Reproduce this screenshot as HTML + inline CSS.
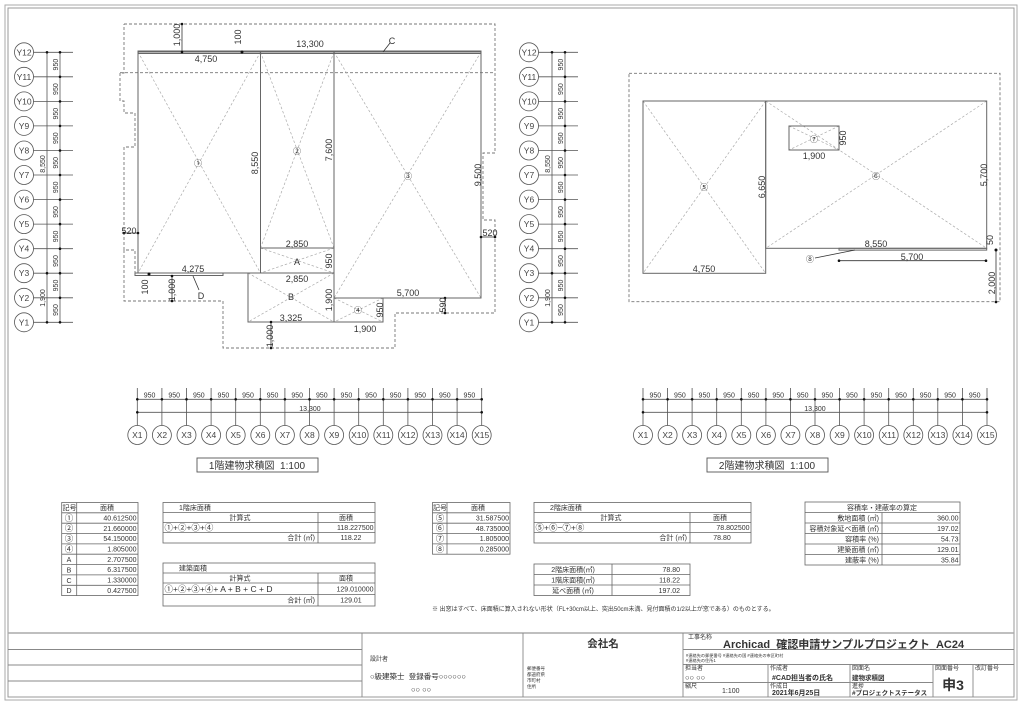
<!DOCTYPE html>
<html><head><meta charset="utf-8"><style>
html,body{margin:0;padding:0;background:#fff;width:1024px;height:707px;overflow:hidden}
svg{position:absolute;left:0;top:0}
text{font-family:"Liberation Sans","Noto Sans CJK JP",sans-serif;fill:#333}
.d{font-size:9px;fill:#444}
.s{font-size:6.5px;fill:#333}
.g{font-size:8.5px;fill:#444}
</style></head><body>
<svg width="1024" height="707" viewBox="0 0 1024 707">
<rect x="5" y="5" width="1012" height="695" fill="none" stroke="#aaa" stroke-width="1"/>
<rect x="8" y="8" width="1006" height="689" fill="none" stroke="#999" stroke-width="1"/>

<g stroke="#555" stroke-width="0.8" fill="none">
<line x1="47" y1="52.3" x2="47" y2="322.3"/><line x1="60" y1="52.3" x2="60" y2="322.3"/>
<line x1="33.5" y1="322.3" x2="73" y2="322.3"/><line x1="33.5" y1="297.8" x2="73" y2="297.8"/><line x1="33.5" y1="273.2" x2="73" y2="273.2"/><line x1="33.5" y1="248.7" x2="73" y2="248.7"/><line x1="33.5" y1="224.1" x2="73" y2="224.1"/><line x1="33.5" y1="199.6" x2="73" y2="199.6"/><line x1="33.5" y1="175" x2="73" y2="175"/><line x1="33.5" y1="150.5" x2="73" y2="150.5"/><line x1="33.5" y1="125.9" x2="73" y2="125.9"/><line x1="33.5" y1="101.4" x2="73" y2="101.4"/><line x1="33.5" y1="76.8" x2="73" y2="76.8"/><line x1="33.5" y1="52.3" x2="73" y2="52.3"/>
<circle cx="24" cy="322.3" r="9.5"/><circle cx="24" cy="297.8" r="9.5"/><circle cx="24" cy="273.2" r="9.5"/><circle cx="24" cy="248.7" r="9.5"/><circle cx="24" cy="224.1" r="9.5"/><circle cx="24" cy="199.6" r="9.5"/><circle cx="24" cy="175" r="9.5"/><circle cx="24" cy="150.5" r="9.5"/><circle cx="24" cy="125.9" r="9.5"/><circle cx="24" cy="101.4" r="9.5"/><circle cx="24" cy="76.8" r="9.5"/><circle cx="24" cy="52.3" r="9.5"/>
</g>
<g fill="#111">
<circle cx="47" cy="322.3" r="1.3"/><circle cx="47" cy="273.2" r="1.3"/><circle cx="47" cy="52.3" r="1.3"/>
<circle cx="60" cy="322.3" r="1.3"/><circle cx="60" cy="297.8" r="1.3"/><circle cx="60" cy="273.2" r="1.3"/><circle cx="60" cy="248.7" r="1.3"/><circle cx="60" cy="224.1" r="1.3"/><circle cx="60" cy="199.6" r="1.3"/><circle cx="60" cy="175" r="1.3"/><circle cx="60" cy="150.5" r="1.3"/><circle cx="60" cy="125.9" r="1.3"/><circle cx="60" cy="101.4" r="1.3"/><circle cx="60" cy="76.8" r="1.3"/><circle cx="60" cy="52.3" r="1.3"/>
</g>
<g text-anchor="middle">
<text x="24" y="325.3" class="g">Y1</text><text x="24" y="300.8" class="g">Y2</text><text x="24" y="276.2" class="g">Y3</text><text x="24" y="251.7" class="g">Y4</text><text x="24" y="227.1" class="g">Y5</text><text x="24" y="202.6" class="g">Y6</text><text x="24" y="178" class="g">Y7</text><text x="24" y="153.5" class="g">Y8</text><text x="24" y="128.9" class="g">Y9</text><text x="24" y="104.4" class="g">Y10</text><text x="24" y="79.8" class="g">Y11</text><text x="24" y="55.3" class="g">Y12</text>
</g>
<g font-size="7" fill="#444" text-anchor="middle">
<text transform="translate(58,310) rotate(-90)">950</text><text transform="translate(58,285.5) rotate(-90)">950</text><text transform="translate(58,261) rotate(-90)">950</text><text transform="translate(58,236.4) rotate(-90)">950</text><text transform="translate(58,211.9) rotate(-90)">950</text><text transform="translate(58,187.3) rotate(-90)">950</text><text transform="translate(58,162.8) rotate(-90)">950</text><text transform="translate(58,138.2) rotate(-90)">950</text><text transform="translate(58,113.7) rotate(-90)">950</text><text transform="translate(58,89.1) rotate(-90)">950</text><text transform="translate(58,64.6) rotate(-90)">950</text>
<text transform="translate(45,164) rotate(-90)">8,550</text><text transform="translate(45,298) rotate(-90)">1,900</text>
</g>

<g stroke="#555" stroke-width="0.8" fill="none">
<line x1="552" y1="52.3" x2="552" y2="322.3"/><line x1="565" y1="52.3" x2="565" y2="322.3"/>
<line x1="538.5" y1="322.3" x2="578" y2="322.3"/><line x1="538.5" y1="297.8" x2="578" y2="297.8"/><line x1="538.5" y1="273.2" x2="578" y2="273.2"/><line x1="538.5" y1="248.7" x2="578" y2="248.7"/><line x1="538.5" y1="224.1" x2="578" y2="224.1"/><line x1="538.5" y1="199.6" x2="578" y2="199.6"/><line x1="538.5" y1="175" x2="578" y2="175"/><line x1="538.5" y1="150.5" x2="578" y2="150.5"/><line x1="538.5" y1="125.9" x2="578" y2="125.9"/><line x1="538.5" y1="101.4" x2="578" y2="101.4"/><line x1="538.5" y1="76.8" x2="578" y2="76.8"/><line x1="538.5" y1="52.3" x2="578" y2="52.3"/>
<circle cx="529" cy="322.3" r="9.5"/><circle cx="529" cy="297.8" r="9.5"/><circle cx="529" cy="273.2" r="9.5"/><circle cx="529" cy="248.7" r="9.5"/><circle cx="529" cy="224.1" r="9.5"/><circle cx="529" cy="199.6" r="9.5"/><circle cx="529" cy="175" r="9.5"/><circle cx="529" cy="150.5" r="9.5"/><circle cx="529" cy="125.9" r="9.5"/><circle cx="529" cy="101.4" r="9.5"/><circle cx="529" cy="76.8" r="9.5"/><circle cx="529" cy="52.3" r="9.5"/>
</g>
<g fill="#111">
<circle cx="552" cy="322.3" r="1.3"/><circle cx="552" cy="273.2" r="1.3"/><circle cx="552" cy="52.3" r="1.3"/>
<circle cx="565" cy="322.3" r="1.3"/><circle cx="565" cy="297.8" r="1.3"/><circle cx="565" cy="273.2" r="1.3"/><circle cx="565" cy="248.7" r="1.3"/><circle cx="565" cy="224.1" r="1.3"/><circle cx="565" cy="199.6" r="1.3"/><circle cx="565" cy="175" r="1.3"/><circle cx="565" cy="150.5" r="1.3"/><circle cx="565" cy="125.9" r="1.3"/><circle cx="565" cy="101.4" r="1.3"/><circle cx="565" cy="76.8" r="1.3"/><circle cx="565" cy="52.3" r="1.3"/>
</g>
<g text-anchor="middle">
<text x="529" y="325.3" class="g">Y1</text><text x="529" y="300.8" class="g">Y2</text><text x="529" y="276.2" class="g">Y3</text><text x="529" y="251.7" class="g">Y4</text><text x="529" y="227.1" class="g">Y5</text><text x="529" y="202.6" class="g">Y6</text><text x="529" y="178" class="g">Y7</text><text x="529" y="153.5" class="g">Y8</text><text x="529" y="128.9" class="g">Y9</text><text x="529" y="104.4" class="g">Y10</text><text x="529" y="79.8" class="g">Y11</text><text x="529" y="55.3" class="g">Y12</text>
</g>
<g font-size="7" fill="#444" text-anchor="middle">
<text transform="translate(563,310) rotate(-90)">950</text><text transform="translate(563,285.5) rotate(-90)">950</text><text transform="translate(563,261) rotate(-90)">950</text><text transform="translate(563,236.4) rotate(-90)">950</text><text transform="translate(563,211.9) rotate(-90)">950</text><text transform="translate(563,187.3) rotate(-90)">950</text><text transform="translate(563,162.8) rotate(-90)">950</text><text transform="translate(563,138.2) rotate(-90)">950</text><text transform="translate(563,113.7) rotate(-90)">950</text><text transform="translate(563,89.1) rotate(-90)">950</text><text transform="translate(563,64.6) rotate(-90)">950</text>
<text transform="translate(550,164) rotate(-90)">8,550</text><text transform="translate(550,298) rotate(-90)">1,900</text>
</g>

<g fill="none" stroke="#777" stroke-width="0.9" stroke-dasharray="3,2">
<path d="M124,24 H495 V153 H483 V220 H495 V313 H395 V348 H223 V301 H124 V250 H135 V273 M124,250 V147 H135 V113 H124 V101 H120 V73 H124 V24"/>
<line x1="120" y1="72.7" x2="495" y2="72.7"/>
</g>
<g fill="none" stroke="#aaa" stroke-width="0.7" stroke-dasharray="2.5,2">
<path d="M138,52 L260.5,273 M260.5,52 L138,273"/>
<path d="M260.5,52 L334,248 M334,52 L260.5,248"/>
<path d="M260.5,248 L334,273 M334,248 L260.5,273"/>
<path d="M334,52 L481,298 M481,52 L334,298"/>
<path d="M248,273 L334,322 M334,273 L248,322"/>
<path d="M334,298 L383,322 M383,298 L334,322"/>
</g>
<g fill="none" stroke="#666" stroke-width="1">
<rect x="138" y="51" width="343" height="2.5"/>
<rect x="138" y="52" width="122.5" height="221"/>
<rect x="260.5" y="52" width="73.5" height="196"/>
<rect x="260.5" y="248" width="73.5" height="25"/>
<rect x="334" y="52" width="147" height="246"/>
<rect x="248" y="273" width="86" height="49"/>
<rect x="334" y="298" width="49" height="24"/>
<rect x="135" y="273" width="88" height="2.5"/>
</g>
<g stroke="#333" stroke-width="0.8" fill="none">
<line x1="182" y1="24" x2="182" y2="52"/><line x1="172" y1="276" x2="172" y2="301"/><line x1="271" y1="322" x2="271" y2="348"/><line x1="445" y1="298" x2="445" y2="313"/>
<line x1="124" y1="233" x2="138" y2="233"/><line x1="481" y1="237" x2="495" y2="237"/>
<line x1="383" y1="52" x2="390" y2="43"/><line x1="193" y1="276" x2="199" y2="290"/>
</g>
<g fill="#111">
<circle cx="182" cy="24" r="1.3"/><circle cx="182" cy="52" r="1.3"/><circle cx="242" cy="52" r="1.5"/><circle cx="149" cy="274" r="1.5"/><circle cx="172" cy="276" r="1.3"/><circle cx="172" cy="301" r="1.3"/><circle cx="271" cy="322" r="1.3"/><circle cx="271" cy="348" r="1.3"/><circle cx="445" cy="298" r="1.3"/><circle cx="445" cy="313" r="1.3"/><circle cx="124" cy="233" r="1.3"/><circle cx="138" cy="233" r="1.3"/><circle cx="481" cy="237" r="1.3"/><circle cx="495" cy="237" r="1.3"/>
</g>
<g class="d" text-anchor="middle">
<text x="310" y="47">13,300</text><text x="206" y="62">4,750</text>
<text x="297" y="247">2,850</text><text x="297" y="282">2,850</text>
<text x="408" y="296">5,700</text><text x="193" y="272">4,275</text>
<text x="291" y="321">3,325</text><text x="365" y="332">1,900</text>
<text x="129" y="234">520</text><text x="490" y="236">520</text>
<text x="392" y="44">C</text><text x="201" y="299">D</text><text x="297" y="265">A</text><text x="291" y="300">B</text>
<text transform="translate(180,35) rotate(-90)">1,000</text>
<text transform="translate(241,37) rotate(-90)">100</text>
<text transform="translate(258,163) rotate(-90)">8,550</text>
<text transform="translate(332,150) rotate(-90)">7,600</text>
<text transform="translate(481,175) rotate(-90)">9,500</text>
<text transform="translate(332,261) rotate(-90)">950</text>
<text transform="translate(332,300) rotate(-90)">1,900</text>
<text transform="translate(383,310) rotate(-90)">950</text>
<text transform="translate(446,305) rotate(-90)">590</text>
<text transform="translate(148,287) rotate(-90)">100</text>
<text transform="translate(175,290) rotate(-90)">1,000</text>
<text transform="translate(273,336) rotate(-90)">1,000</text>
</g>
<g font-size="8" fill="#888" text-anchor="middle">
<text x="198" y="166">①</text><text x="297" y="154">②</text><text x="408" y="179">③</text><text x="358" y="313">④</text>
</g>

<rect x="629" y="73.3" width="371" height="228.4" fill="none" stroke="#777" stroke-width="0.9" stroke-dasharray="3,2"/>
<g fill="none" stroke="#aaa" stroke-width="0.7" stroke-dasharray="2.5,2">
<path d="M643,101 L765.7,273.3 M765.7,101 L643,273.3"/>
<path d="M765.7,101 L986.7,248.3 M986.7,101 L765.7,248.3"/>
<path d="M789,126 L839,150 M839,126 L789,150"/>
</g>
<g fill="none" stroke="#666" stroke-width="1">
<rect x="643" y="101" width="122.7" height="172.3"/>
<rect x="765.7" y="101" width="221" height="147.3"/>
<rect x="789" y="126" width="50" height="24"/>
<rect x="839" y="248.3" width="147.7" height="1.8"/>
</g>
<g stroke="#333" stroke-width="0.8" fill="none">
<line x1="839" y1="260.7" x2="986" y2="260.7"/><line x1="996" y1="250" x2="996" y2="302"/><line x1="815" y1="258" x2="855" y2="250"/>
</g>
<g fill="#111"><circle cx="839" cy="260.7" r="1.3"/><circle cx="986" cy="260.7" r="1.3"/><circle cx="996" cy="250" r="1.5"/><circle cx="996" cy="302" r="1.3"/></g>
<g class="d" text-anchor="middle">
<text x="814" y="159">1,900</text><text x="704" y="272">4,750</text><text x="876" y="247">8,550</text><text x="912" y="260">5,700</text>
<text transform="translate(846,138) rotate(-90)">950</text>
<text transform="translate(765,187) rotate(-90)">6,650</text>
<text transform="translate(987,175) rotate(-90)">5,700</text>
<text transform="translate(993,240) rotate(-90)">50</text>
<text transform="translate(995,283) rotate(-90)">2,000</text>
</g>
<g font-size="8" fill="#888" text-anchor="middle">
<text x="704" y="190">⑤</text><text x="876" y="179">⑥</text><text x="814" y="142">⑦</text><text x="810" y="262">⑧</text>
</g>

<g stroke="#555" stroke-width="0.8" fill="none">
<line x1="137.3" y1="399.3" x2="481.7" y2="399.3"/><line x1="137.3" y1="412.3" x2="481.7" y2="412.3"/>
<path d="M137.3,388V425.5M161.9,388V425.5M186.5,388V425.5M211.1,388V425.5M235.7,388V425.5M260.3,388V425.5M284.9,388V425.5M309.5,388V425.5M334.1,388V425.5M358.7,388V425.5M383.3,388V425.5M407.9,388V425.5M432.5,388V425.5M457.1,388V425.5M481.7,388V425.5"/>
<circle cx="137.3" cy="435" r="9.5"/><circle cx="161.9" cy="435" r="9.5"/><circle cx="186.5" cy="435" r="9.5"/><circle cx="211.1" cy="435" r="9.5"/><circle cx="235.7" cy="435" r="9.5"/><circle cx="260.3" cy="435" r="9.5"/><circle cx="284.9" cy="435" r="9.5"/><circle cx="309.5" cy="435" r="9.5"/><circle cx="334.1" cy="435" r="9.5"/><circle cx="358.7" cy="435" r="9.5"/><circle cx="383.3" cy="435" r="9.5"/><circle cx="407.9" cy="435" r="9.5"/><circle cx="432.5" cy="435" r="9.5"/><circle cx="457.1" cy="435" r="9.5"/><circle cx="481.7" cy="435" r="9.5"/>
</g>
<g fill="#111"><circle cx="137.3" cy="399.3" r="1.3"/><circle cx="161.9" cy="399.3" r="1.3"/><circle cx="186.5" cy="399.3" r="1.3"/><circle cx="211.1" cy="399.3" r="1.3"/><circle cx="235.7" cy="399.3" r="1.3"/><circle cx="260.3" cy="399.3" r="1.3"/><circle cx="284.9" cy="399.3" r="1.3"/><circle cx="309.5" cy="399.3" r="1.3"/><circle cx="334.1" cy="399.3" r="1.3"/><circle cx="358.7" cy="399.3" r="1.3"/><circle cx="383.3" cy="399.3" r="1.3"/><circle cx="407.9" cy="399.3" r="1.3"/><circle cx="432.5" cy="399.3" r="1.3"/><circle cx="457.1" cy="399.3" r="1.3"/><circle cx="481.7" cy="399.3" r="1.3"/><circle cx="137.3" cy="412.3" r="1.3"/><circle cx="481.7" cy="412.3" r="1.3"/></g>
<g font-size="7" fill="#444" text-anchor="middle">
<text x="149.6" y="397.5">950</text><text x="174.2" y="397.5">950</text><text x="198.8" y="397.5">950</text><text x="223.4" y="397.5">950</text><text x="248" y="397.5">950</text><text x="272.6" y="397.5">950</text><text x="297.2" y="397.5">950</text><text x="321.8" y="397.5">950</text><text x="346.4" y="397.5">950</text><text x="371" y="397.5">950</text><text x="395.6" y="397.5">950</text><text x="420.2" y="397.5">950</text><text x="444.8" y="397.5">950</text><text x="469.4" y="397.5">950</text>
<text x="310" y="411">13,300</text>
</g>
<g text-anchor="middle">
<text x="137.3" y="438" class="g">X1</text><text x="161.9" y="438" class="g">X2</text><text x="186.5" y="438" class="g">X3</text><text x="211.1" y="438" class="g">X4</text><text x="235.7" y="438" class="g">X5</text><text x="260.3" y="438" class="g">X6</text><text x="284.9" y="438" class="g">X7</text><text x="309.5" y="438" class="g">X8</text><text x="334.1" y="438" class="g">X9</text><text x="358.7" y="438" class="g">X10</text><text x="383.3" y="438" class="g">X11</text><text x="407.9" y="438" class="g">X12</text><text x="432.5" y="438" class="g">X13</text><text x="457.1" y="438" class="g">X14</text><text x="481.7" y="438" class="g">X15</text>
</g>
<rect x="197" y="458" width="121" height="14" fill="none" stroke="#555" stroke-width="0.9"/>
<text x="257" y="469" text-anchor="middle" font-size="10" fill="#333">1階建物求積図&#160;&#160;1:100</text>

<g stroke="#555" stroke-width="0.8" fill="none">
<line x1="643" y1="399.3" x2="987" y2="399.3"/><line x1="643" y1="412.3" x2="987" y2="412.3"/>
<path d="M643,388V425.5M667.6,388V425.5M692.1,388V425.5M716.7,388V425.5M741.3,388V425.5M765.9,388V425.5M790.4,388V425.5M815,388V425.5M839.6,388V425.5M864.1,388V425.5M888.7,388V425.5M913.3,388V425.5M937.8,388V425.5M962.4,388V425.5M987,388V425.5"/>
<circle cx="643" cy="435" r="9.5"/><circle cx="667.6" cy="435" r="9.5"/><circle cx="692.1" cy="435" r="9.5"/><circle cx="716.7" cy="435" r="9.5"/><circle cx="741.3" cy="435" r="9.5"/><circle cx="765.9" cy="435" r="9.5"/><circle cx="790.4" cy="435" r="9.5"/><circle cx="815" cy="435" r="9.5"/><circle cx="839.6" cy="435" r="9.5"/><circle cx="864.1" cy="435" r="9.5"/><circle cx="888.7" cy="435" r="9.5"/><circle cx="913.3" cy="435" r="9.5"/><circle cx="937.8" cy="435" r="9.5"/><circle cx="962.4" cy="435" r="9.5"/><circle cx="987" cy="435" r="9.5"/>
</g>
<g fill="#111"><circle cx="643" cy="399.3" r="1.3"/><circle cx="667.6" cy="399.3" r="1.3"/><circle cx="692.1" cy="399.3" r="1.3"/><circle cx="716.7" cy="399.3" r="1.3"/><circle cx="741.3" cy="399.3" r="1.3"/><circle cx="765.9" cy="399.3" r="1.3"/><circle cx="790.4" cy="399.3" r="1.3"/><circle cx="815" cy="399.3" r="1.3"/><circle cx="839.6" cy="399.3" r="1.3"/><circle cx="864.1" cy="399.3" r="1.3"/><circle cx="888.7" cy="399.3" r="1.3"/><circle cx="913.3" cy="399.3" r="1.3"/><circle cx="937.8" cy="399.3" r="1.3"/><circle cx="962.4" cy="399.3" r="1.3"/><circle cx="987" cy="399.3" r="1.3"/><circle cx="643" cy="412.3" r="1.3"/><circle cx="987" cy="412.3" r="1.3"/></g>
<g font-size="7" fill="#444" text-anchor="middle">
<text x="655.3" y="397.5">950</text><text x="679.9" y="397.5">950</text><text x="704.4" y="397.5">950</text><text x="729" y="397.5">950</text><text x="753.6" y="397.5">950</text><text x="778.2" y="397.5">950</text><text x="802.7" y="397.5">950</text><text x="827.3" y="397.5">950</text><text x="851.9" y="397.5">950</text><text x="876.4" y="397.5">950</text><text x="901" y="397.5">950</text><text x="925.6" y="397.5">950</text><text x="950.1" y="397.5">950</text><text x="974.7" y="397.5">950</text>
<text x="815" y="411">13,300</text>
</g>
<g text-anchor="middle">
<text x="643" y="438" class="g">X1</text><text x="667.6" y="438" class="g">X2</text><text x="692.1" y="438" class="g">X3</text><text x="716.7" y="438" class="g">X4</text><text x="741.3" y="438" class="g">X5</text><text x="765.9" y="438" class="g">X6</text><text x="790.4" y="438" class="g">X7</text><text x="815" y="438" class="g">X8</text><text x="839.6" y="438" class="g">X9</text><text x="864.1" y="438" class="g">X10</text><text x="888.7" y="438" class="g">X11</text><text x="913.3" y="438" class="g">X12</text><text x="937.8" y="438" class="g">X13</text><text x="962.4" y="438" class="g">X14</text><text x="987" y="438" class="g">X15</text>
</g>
<rect x="707" y="458" width="121" height="14" fill="none" stroke="#555" stroke-width="0.9"/>
<text x="767" y="469" text-anchor="middle" font-size="10" fill="#333">2階建物求積図&#160;&#160;1:100</text>

<g fill="none" stroke="#666" stroke-width="0.8">
<rect x="61.7" y="502.5" width="76.3" height="93.1"/>
<line x1="76.7" y1="502.5" x2="76.7" y2="595.6"/>
<path d="M61.7,512.8H138M61.7,523.2H138M61.7,533.5H138M61.7,543.9H138M61.7,554.2H138M61.7,564.6H138M61.7,574.9H138M61.7,585.3H138"/>
<rect x="163" y="502.5" width="212" height="40.5"/>
<path d="M163,512.5H375M163,522.5H375M163,532.5H375M318,512.5V543"/>
<rect x="163" y="563" width="212" height="43"/>
<path d="M163,573H375M163,583H375M163,594.5H375M318,573V606"/>
<rect x="432.5" y="502.5" width="77.5" height="51.7"/>
<line x1="447" y1="502.5" x2="447" y2="554.2"/>
<path d="M432.5,512.8H510M432.5,523.2H510M432.5,533.5H510M432.5,543.9H510"/>
<rect x="534" y="502.5" width="217" height="40.5"/>
<path d="M534,512.5H751M534,522.5H751M534,532.5H751M690,512.5V543"/>
<rect x="534" y="564" width="156" height="31.5"/>
<path d="M534,574.5H690M534,585H690M612,564V595.5"/>
<rect x="805" y="502" width="155" height="63"/>
<path d="M805,512.5H960M805,523H960M805,533.5H960M805,544H960M805,554.5H960M882,512.5V565"/>
</g>
<g font-size="7" fill="#333">
<text x="62.5" y="510">記号</text><text x="107" y="510" text-anchor="middle">面積</text>
<g text-anchor="middle" font-size="8.5"><text x="69" y="520.8">①</text><text x="69" y="531.1">②</text><text x="69" y="541.5">③</text><text x="69" y="551.8">④</text><text x="69" y="562.2" font-size="7">A</text><text x="69" y="572.5" font-size="7">B</text><text x="69" y="582.9" font-size="7">C</text><text x="69" y="593.2" font-size="7">D</text></g>
<g text-anchor="end"><text x="136.5" y="520.5">40.612500</text><text x="136.5" y="530.8">21.660000</text><text x="136.5" y="541.2">54.150000</text><text x="136.5" y="551.5">1.805000</text><text x="136.5" y="561.9">2.707500</text><text x="136.5" y="572.2">6.317500</text><text x="136.5" y="582.6">1.330000</text><text x="136.5" y="592.9">0.427500</text></g>

<text x="179" y="510">1階床面積</text>
<text x="240" y="520" text-anchor="middle">計算式</text><text x="346" y="520" text-anchor="middle">面積</text>
<text x="164.5" y="530.5" font-size="8.5">①+②+③+④</text><text x="373.5" y="530" text-anchor="end">118.227500</text>
<text x="315" y="540" text-anchor="end">合計 (㎡)</text><text x="351" y="540" text-anchor="middle">118.22</text>

<text x="179" y="570.5">建築面積</text>
<text x="240" y="580.5" text-anchor="middle">計算式</text><text x="346" y="580.5" text-anchor="middle">面積</text>
<text x="164.5" y="592" font-size="8.5">①+②+③+④+ A + B + C + D</text><text x="373.5" y="591.5" text-anchor="end">129.010000</text>
<text x="315" y="602.5" text-anchor="end">合計 (㎡)</text><text x="351" y="602.5" text-anchor="middle">129.01</text>

<text x="433" y="510">記号</text><text x="478" y="510" text-anchor="middle">面積</text>
<g text-anchor="middle" font-size="8.5"><text x="440" y="520.8">⑤</text><text x="440" y="531.1">⑥</text><text x="440" y="541.5">⑦</text><text x="440" y="551.8">⑧</text></g>
<g text-anchor="end"><text x="509" y="520.5">31.587500</text><text x="509" y="530.8">48.735000</text><text x="509" y="541.2">1.805000</text><text x="509" y="551.5">0.285000</text></g>

<text x="550" y="510">2階床面積</text>
<text x="611" y="520" text-anchor="middle">計算式</text><text x="720" y="520" text-anchor="middle">面積</text>
<text x="535.5" y="530.5" font-size="8.5">⑤+⑥−⑦+⑧</text><text x="749.5" y="530" text-anchor="end">78.802500</text>
<text x="687" y="540" text-anchor="end">合計 (㎡)</text><text x="722" y="540" text-anchor="middle">78.80</text>

<g text-anchor="middle"><text x="573" y="572">2階床面積(㎡)</text><text x="573" y="582.5">1階床面積(㎡)</text><text x="573" y="593">延べ面積 (㎡)</text></g>
<g text-anchor="end"><text x="680" y="572">78.80</text><text x="680" y="582.5">118.22</text><text x="680" y="593">197.02</text></g>

<text x="882" y="510" text-anchor="middle">容積率・建蔽率の算定</text>
<g text-anchor="end"><text x="879" y="520.5">敷地面積 (㎡)</text><text x="879" y="531">容積対象延べ面積 (㎡)</text><text x="879" y="541.5">容積率 (%)</text><text x="879" y="552">建築面積 (㎡)</text><text x="879" y="562.5">建蔽率 (%)</text>
<text x="958.5" y="520.5">360.00</text><text x="958.5" y="531">197.02</text><text x="958.5" y="541.5">54.73</text><text x="958.5" y="552">129.01</text><text x="958.5" y="562.5">35.84</text></g>
</g>
<text x="432" y="611" font-size="6" fill="#555">※ 出窓はすべて、床面積に算入されない形状（FL+30cm以上、突出50cm未満、見付面積の1/2以上が窓である）のものとする。</text>

<g fill="none" stroke="#888" stroke-width="0.9">
<line x1="8" y1="633" x2="1014" y2="633" stroke="#aaa" stroke-width="1.5"/>
<path d="M8,649.5H362M8,665H362M8,681H362"/>
<path d="M362,633V697M523,633V697M683,633V697"/>
<path d="M683,649.5H1014M683,664.5H1014M683,682.5H933M768,664.5V697M850,664.5V697M933,664.5V697M973,664.5V697"/>
</g>
<g font-size="6" fill="#444">
<text x="370" y="661">設計者</text>
<text x="527" y="670" font-size="4.5">郵便番号</text><text x="527" y="676" font-size="4.5">都道府県</text><text x="527" y="682" font-size="4.5">市町村</text><text x="527" y="688" font-size="4.5">住所</text>
<text x="688" y="639">工事名称</text>
<text x="686" y="657" font-size="4.2">#連絡先の郵便番号 #連絡先の国 #連絡先の市区町村</text>
<text x="686" y="662" font-size="4.2">#連絡先の住所1</text>
<text x="685" y="670">担当者</text><text x="685" y="688">縮尺</text>
<text x="770" y="670">作成者</text><text x="770" y="688">作成日</text>
<text x="852" y="670">図面名</text><text x="852" y="688">進捗</text>
<text x="935" y="670">図面番号</text><text x="975" y="670">改訂番号</text>
</g>
<text x="370" y="679" font-size="7.5" fill="#222">○級建築士&#160;&#160;登録番号○○○○○○</text>
<text x="411" y="692" font-size="7.5" fill="#222">○○ ○○</text>
<text x="603" y="647" font-size="10.5" font-weight="bold" fill="#222" text-anchor="middle">会社名</text>
<text x="723" y="648" font-size="11" font-weight="bold" fill="#222">Archicad_確認申請サンプルプロジェクト_AC24</text>
<text x="685" y="680" font-size="7.5" fill="#222">○○ ○○</text>
<text x="722" y="693" font-size="7" fill="#333">1:100</text>
<text x="772" y="680" font-size="7" font-weight="bold" fill="#222">#CAD担当者の氏名</text>
<text x="772" y="695" font-size="7" font-weight="bold" fill="#222">2021年6月25日</text>
<text x="852" y="680" font-size="6.5" font-weight="bold" fill="#222">建物求積図</text>
<text x="852" y="695" font-size="6.5" font-weight="bold" fill="#222">#プロジェクトステータス</text>
<text x="953" y="690" font-size="14" font-weight="bold" fill="#222" text-anchor="middle">申3</text>
</svg>
</body></html>
